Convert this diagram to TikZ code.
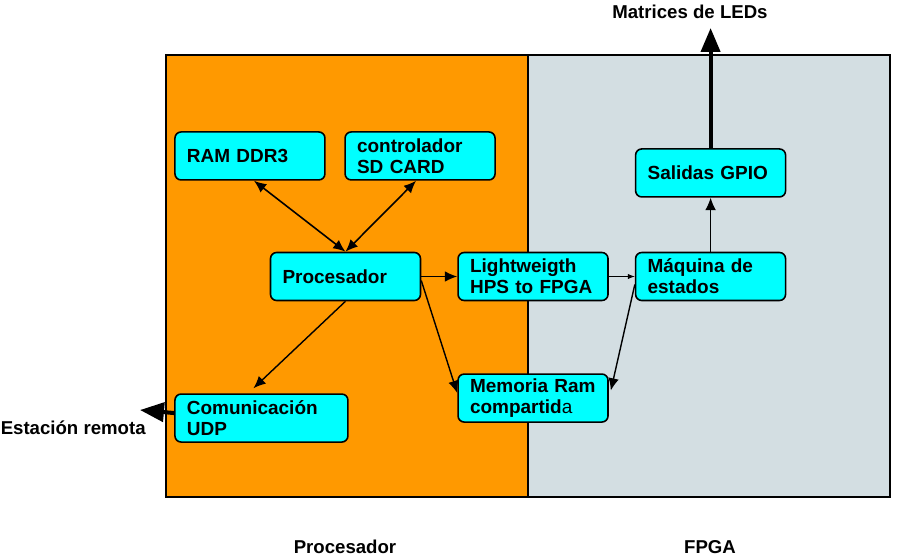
\documentclass[tikz,border=0pt]{standalone}
\usepackage{fontspec}
\setmainfont{Liberation Sans}
\usepackage{tikz}
\usetikzlibrary{positioning, arrows.meta}
\definecolor{hpsOrange}{RGB}{255,153,0}
\definecolor{fpgaGray}{RGB}{211,222,226}
\definecolor{blockCyan}{RGB}{0,255,255}

\begin{document}
\begin{tikzpicture}[
    x=0.02cm, y=-0.02cm,
    node distance=0.4cm,
    block/.style={rectangle, draw=black, fill=blockCyan, text width=2.52cm, inner xsep=0.24cm, inner ysep=1pt, minimum height=0.96cm, align=left, font=\fontsize{10.8}{12}\selectfont\bfseries, rounded corners=3.5pt, line width=0.9pt},
    tag/.style={font=\fontsize{10.6}{12}\selectfont\bfseries, inner sep=0pt},
    arrow/.style={-{Latex[length=7pt, width=6pt]}, line width=0.8pt},
    biarrow/.style={{Latex[length=7pt, width=6pt]}-{Latex[length=7pt, width=6pt]}, line width=0.9pt},
    thin arrow/.style={-{Latex[length=4pt, width=3pt]}, line width=0.4pt},
    big arrow/.style={-{Triangle[length=0.48cm, width=0.38cm]}, line width=2.3pt}
]
\useasboundingbox (0,0) rectangle (907,558);

% Panels
\fill[hpsOrange] (166,55) rectangle (528,497);
\fill[fpgaGray] (528,55) rectangle (890,497);
\draw[line width=1.4pt] (166,55) rectangle (890,497);
\draw[line width=1.2pt] (528,55) -- (528,497);

% Processor side
\node[block] (proc) at (345.5,276.5) {Procesador};
\node[block, above left=1.42cm and -1.12cm of proc] (ram) {RAM DDR3};
\node[block, above right=1.42cm and -1.54cm of proc] (sd) {controlador\\SD CARD};
\node[block, text width=2.98cm, below left=1.84cm and -1.58cm of proc] (udp) {Comunicaci\'on\\UDP};

\draw[biarrow] ([xshift=0.08cm]ram.south) -- (proc.north);
\draw[biarrow] ([xshift=-0.08cm]sd.south) -- (proc.north);
\draw[arrow] (proc.south) -- ([xshift=-0.16cm, yshift=0.1cm]udp.north);

% Bridge and shared memory
\node[block, right=0.72cm of proc] (lw) {Lightweigth\\HPS to FPGA};
\node[block, below=1.44cm of lw] (mem) {Memoria Ram\\compartid{\mdseries a}};

\draw[arrow] (proc.east) -- (lw.west);
\draw[arrow] ([yshift=-0.08cm]proc.east) -- ([yshift=0.1cm]mem.west);

% FPGA side
\node[block, right=0.52cm of lw] (fsm) {M\'aquina de\\estados};
\node[block, above=1.08cm of fsm] (gpio) {Salidas GPIO};

\draw[thin arrow] (lw.east) -- (fsm.west);
\draw[arrow] ([yshift=-0.16cm]fsm.west) -- ([xshift=0.04cm, yshift=0.15cm]mem.east);
\draw[arrow, line width=0.6pt] (fsm.north) -- (gpio.south);

% Outputs
\coordinate (leds) at (709,28);
\coordinate (remota) at (140,410);
\draw[big arrow] (gpio.north) -- (gpio.north |- leds);
\draw[big arrow] ([yshift=0.1cm]udp.west) -- (remota);

\node[tag] (ledtxt) at (690,12) {Matrices de LEDs};
\node[tag, anchor=east] (remtxt) at (146,428) {Estaci\'on remota};

% Panel titles
\node[tag] (ptitle) at (345,547) {Procesador};
\node[tag] (ftitle) at (710,547) {FPGA};

\end{tikzpicture}
\end{document}
